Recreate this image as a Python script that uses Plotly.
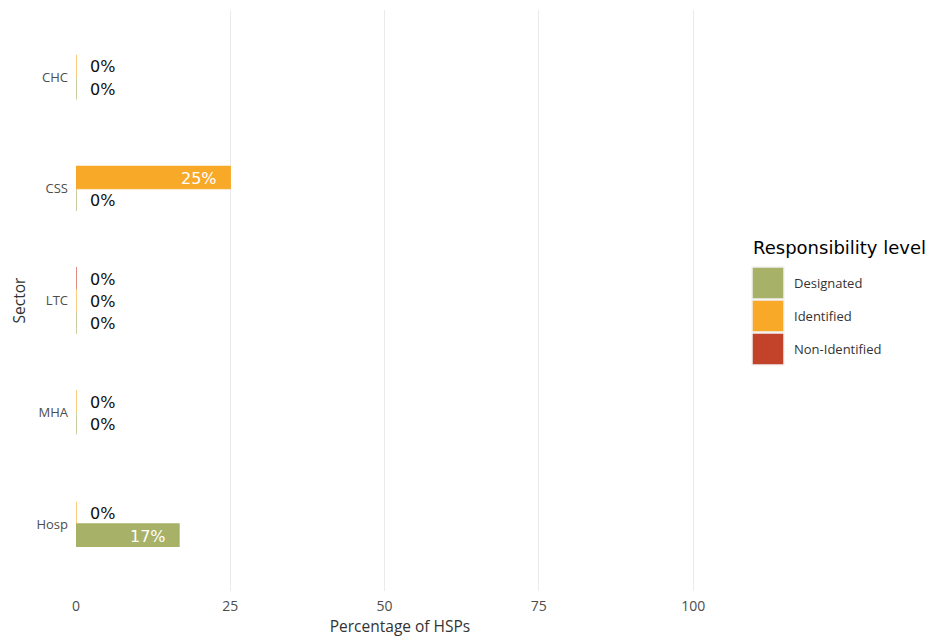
import plotly.graph_objects as go

# ---- data ----
sectors = ["CHC", "CSS", "LTC", "MHA", "Hosp"]          # top to bottom
levels = ["Designated", "Identified", "Non-Identified"]  # legend order (bottom-most bar first)
designated = {"CHC": 0, "CSS": 0, "LTC": 0, "MHA": 0, "Hosp": 16.7}
identified = {"CHC": 0, "CSS": 25, "LTC": 0, "MHA": 0, "Hosp": 0}
non_identified = {"LTC": 0}
x_ticks = [0, 25, 50, 75, 100]

colors = {"Designated": "#A7B167", "Identified": "#F8A928", "Non-Identified": "#C3432A"}
series = {"Designated": designated, "Identified": identified, "Non-Identified": non_identified}

# page has an 8px body margin; lay out in page pixels
OFF = 8
W, H = 944 - OFF, 639 - OFF
PANEL_L, PANEL_R, PANEL_T, PANEL_B = 76, 724, 10, 591
ML, MT = PANEL_L - OFF, PANEL_T - OFF
MR, MB = W - (PANEL_R - OFF), H - (PANEL_B - OFF)
PW, PH = PANEL_R - PANEL_L, PANEL_B - PANEL_T
BAR_W = 0.2

# category positions (bottom = 0)
pos = {s: len(sectors) - 1 - i for i, s in enumerate(sectors)}

# dodge: bars present in each sector, stacked bottom->top in level order
present = {s: [lv for lv in levels if s in series[lv]] for s in sectors}

fig = go.Figure()
annotations = []
for lv in levels:
    ys, xs = [], []
    for s in sectors:
        if s not in series[lv]:
            continue
        n = len(present[s])
        k = present[s].index(lv)
        center = pos[s] + (k - (n - 1) / 2) * BAR_W
        v = series[lv][s]
        ys.append(center)
        xs.append(v)
        label = f"{round(v)}%"
        if v > 0:
            annotations.append(dict(x=v, y=center, xref="x", yref="y", text=label,
                                    xanchor="right", xshift=-11, yshift=-1, showarrow=False,
                                    font=dict(family="DejaVu Sans", size=16, color="white")))
        else:
            annotations.append(dict(x=v, y=center, xref="x", yref="y", text=label,
                                    xanchor="left", xshift=12, yshift=-1, showarrow=False,
                                    font=dict(family="DejaVu Sans", size=16, color="#111111")))
    fig.add_trace(go.Bar(x=xs, y=ys, orientation="h", width=BAR_W, name=lv,
                         marker=dict(color=colors[lv], line=dict(color=colors[lv], width=1.2)),
                         showlegend=False, hoverinfo="x+name"))

# custom legend (ggplot-like), positions in page pixels
def px2paper(px, py):
    return (px - PANEL_L) / PW, 1 - (py - PANEL_T) / PH

shapes = []
tx, ty = px2paper(751, 247)
annotations.append(dict(x=tx, y=ty, xref="paper", yref="paper", text="Responsibility level",
                        xanchor="left", yanchor="middle", showarrow=False,
                        font=dict(family="DejaVu Sans", size=18, color="black")))
for i, lv in enumerate(levels):
    top = 267 + i * 33
    x0, y0 = px2paper(752, top)
    x1, y1 = px2paper(784, top + 32)
    shapes.append(dict(type="rect", xref="paper", yref="paper", x0=x0, y0=y1, x1=x1, y1=y0,
                       fillcolor=colors[lv], line=dict(color="#F2F2F2", width=1.5)))
    lx, ly = px2paper(792, top + 16)
    annotations.append(dict(x=lx, y=ly, xref="paper", yref="paper", text=lv,
                            xanchor="left", yanchor="middle", showarrow=False,
                            font=dict(family="Open Sans", size=13, color="#333333")))

fig.update_layout(
    width=W, height=H,
    margin=dict(l=ML, r=MR, t=MT, b=MB, autoexpand=False),
    plot_bgcolor="white", paper_bgcolor="white",
    barmode="overlay",
    showlegend=False,
    annotations=annotations,
    shapes=shapes,
    font=dict(family="Open Sans", color="#4D4D4D"),
    xaxis=dict(range=[0, 105], tickvals=x_ticks, ticktext=[str(t) for t in x_ticks],
               showgrid=True, gridcolor="#EBEBEB", gridwidth=1, zeroline=False,
               showline=False, ticks="", tickfont=dict(size=14, color="#4D4D4D"),
               ticklabelstandoff=5,
               title=dict(text="Percentage of HSPs", font=dict(size=15.5, color="#333333"), standoff=7),
               fixedrange=True, automargin=False),
    yaxis=dict(range=[-0.6, len(sectors) - 0.4], tickvals=[pos[s] for s in sectors], ticktext=sectors,
               showgrid=False, zeroline=False, showline=False, ticks="",
               tickfont=dict(size=13, color="#4D4D4D"), ticklabelstandoff=7,
               title=dict(text="Sector", font=dict(size=15.5, color="#333333"), standoff=12),
               fixedrange=True, automargin=False),
)

fig.write_html("out.html")
